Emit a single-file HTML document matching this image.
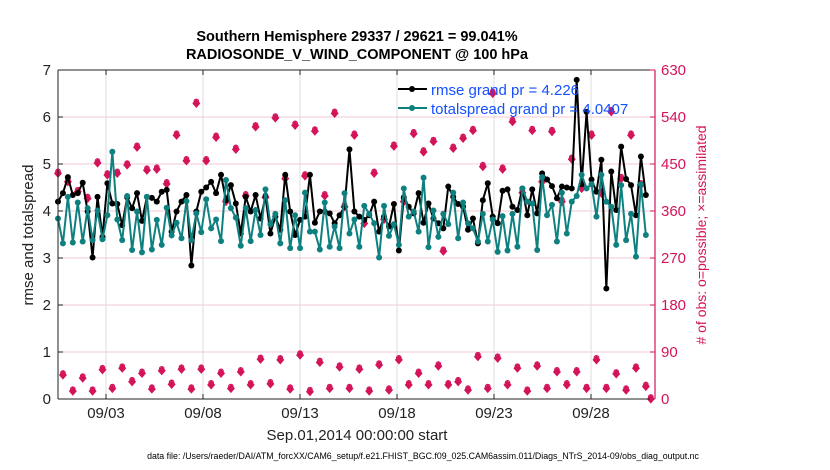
<!DOCTYPE html>
<html><head><meta charset="utf-8"><style>
body{margin:0;background:#fff;}
svg{display:block;font-family:"Liberation Sans",Arial,sans-serif;}
</style></head><body>
<svg id="c" width="830" height="470" viewBox="0 0 830 470"></svg>
<script>
const rmse=[4.20,4.38,4.72,4.34,4.38,4.60,3.99,3.01,4.30,3.45,4.59,4.16,4.15,3.70,4.29,4.06,4.38,3.79,4.30,4.28,4.20,4.41,4.45,3.56,3.99,4.20,4.34,2.84,3.99,4.41,4.50,4.62,4.38,4.77,4.23,4.55,4.16,3.52,4.30,3.99,4.34,3.84,
4.30,3.52,3.88,3.60,4.77,3.99,3.49,3.81,3.88,4.77,3.75,3.99,3.99,3.95,3.74,3.91,4.09,5.31,3.99,3.88,3.81,3.91,4.20,3.56,3.88,3.67,4.15,3.16,4.29,4.09,3.95,4.38,3.75,4.16,3.84,3.74,3.63,4.52,4.30,4.15,
4.09,3.60,3.84,3.31,4.23,4.59,3.88,3.74,4.43,4.46,4.09,4.02,4.48,3.91,4.46,3.95,4.80,4.67,4.53,4.27,4.52,4.50,4.48,6.79,4.57,6.11,4.67,4.41,5.09,2.35,4.84,4.02,5.37,4.68,4.55,3.91,5.16,4.34];
const spread=[3.84,3.31,4.30,3.33,4.18,3.35,4.06,3.38,4.01,3.40,3.91,5.26,3.82,3.38,4.32,3.17,3.99,3.12,4.30,3.18,3.81,3.28,4.07,3.48,3.75,3.42,4.21,3.38,3.95,3.55,4.25,3.63,3.82,3.36,4.66,4.06,3.86,3.26,4.06,3.36,4.02,3.49,
4.46,3.72,3.94,3.31,4.23,3.21,3.91,3.21,4.39,3.56,3.56,3.18,4.18,3.24,3.67,3.21,4.38,3.52,3.82,3.24,4.11,3.94,3.74,3.01,4.11,3.47,3.72,3.28,4.48,3.88,3.99,3.56,4.71,3.23,4.01,3.45,3.94,3.72,4.39,3.42,
4.18,3.74,3.63,3.35,3.94,3.35,3.82,3.13,3.89,3.16,3.94,3.24,4.48,4.20,4.16,3.17,4.72,3.91,4.13,3.35,4.39,3.52,4.20,4.32,4.77,4.48,4.57,3.88,4.77,4.20,4.09,3.28,4.55,3.38,3.94,3.03,4.57,3.49];
const obsPossible=[432,46,416,15,397,40,384,15,452,56,429,20,432,59,448,33,482,49,438,19,440,54,412,28,505,57,456,19,566,57,456,27,501,49,378,20,478,52,389,27,521,76,
386,29,538,75,422,19,524,84,427,14,513,70,389,20,547,61,368,20,505,57,336,15,432,65,344,17,484,75,378,27,508,49,473,27,493,63,283,27,480,33,
499,17,514,81,445,20,585,78,440,27,531,59,395,15,514,63,416,20,512,52,378,27,459,52,403,20,505,75,394,20,550,48,422,17,505,59,410,24,0];
const obsAssimilated=obsPossible;
const yTicks=[0,1,2,3,4,5,6,7];
const y2Ticks=[0,90,180,270,360,450,540,630];
const dateTicks=[3,8,13,18,23,28];
const dateLabels=["09/03","09/08","09/13","09/18","09/23","09/28"];

const svg=document.getElementById('c');
const NS='http://www.w3.org/2000/svg';
const L=58,R=655,T=70,B=399;
const xI=i=>58+i*4.94;
const xDay=d=>106+(d-3)*19.4;
const yL=v=>B-(v/7)*(B-T);
const yR=v=>B-(v/630)*(B-T);
function el(tag,attrs,parent){const e=document.createElementNS(NS,tag);for(const k in attrs)e.setAttribute(k,attrs[k]);(parent||svg).appendChild(e);return e;}
function txt(s,attrs,parent){const e=el('text',attrs,parent);e.textContent=s;return e;}

const grid=el('g',{});


yTicks.forEach(v=>{const g=el('line',{x1:L,x2:R,y1:yL(v),y2:yL(v),stroke:'#f4c9d8','stroke-width':1},grid);});
dateTicks.forEach(d=>{const g=el('line',{x1:xDay(d),x2:xDay(d),y1:T,y2:B,stroke:'#dcdcdc','stroke-width':1},grid);});

const obsG=el('g',{});


obsPossible.forEach((v,i)=>{
  const c=el('circle',{cx:xI(i),cy:yR(v)-2,r:2.3,fill:'none',stroke:'#d4145a','stroke-width':1.1},obsG);
  
  
});
obsAssimilated.forEach((v,i)=>{
  const x=xI(i),y=yR(v);
  const p=el('path',{d:`M${x} ${y-4}L${x+3.5} ${y}L${x} ${y+4}L${x-3.5} ${y}Z`,fill:'#d4145a',stroke:'#d4145a','stroke-width':0.8},obsG);
  
  
});

function series(data,color,name){
  const g=el('g',{});
  
  
  const pl=el('polyline',{points:data.map((v,i)=>xI(i)+','+yL(v)).join(' '),fill:'none',stroke:color,'stroke-width':2,'stroke-linejoin':'round'},g);
  
  
  data.forEach((v,i)=>{const c=el('circle',{cx:xI(i),cy:yL(v),r:3,fill:color},g);
    
    });
}
series(rmse,'#000','rmse-series');
series(spread,'#0f8080','totalspread-series');

const ax=el('g',{});


el('line',{x1:L,x2:R,y1:T,y2:T,stroke:'#222','stroke-width':1},ax);
el('line',{x1:L,x2:R,y1:B,y2:B,stroke:'#222','stroke-width':1},ax);
el('line',{x1:L,x2:L,y1:T,y2:B,stroke:'#222','stroke-width':1},ax);
el('line',{x1:R,x2:R,y1:T,y2:B,stroke:'#d4145a','stroke-width':1.2},ax);
yTicks.forEach(v=>{el('line',{x1:L,x2:L+5,y1:yL(v),y2:yL(v),stroke:'#222'},ax);
  const t=txt(String(v),{x:L-7,y:yL(v)+5,'text-anchor':'end','font-size':15,fill:'#222'},ax);
  });
y2Ticks.forEach(v=>{el('line',{x1:R-5,x2:R,y1:yR(v),y2:yR(v),stroke:'#d4145a'},ax);
  const t=txt(String(v),{x:R+6,y:yR(v)+5,'font-size':15,fill:'#d4145a'},ax);
  });
dateTicks.forEach((d,k)=>{el('line',{x1:xDay(d),x2:xDay(d),y1:B,y2:B-5,stroke:'#222'},ax);el('line',{x1:xDay(d),x2:xDay(d),y1:T,y2:T+5,stroke:'#222'},ax);
  const t=txt(dateLabels[k],{x:xDay(d),y:B+19,'text-anchor':'middle','font-size':15,fill:'#222'},ax);
  });
</script>
<div style="position:absolute;left:0;top:0;width:830px;height:470px;pointer-events:none">
<svg width="830" height="470" style="font-family:'Liberation Sans',Arial,sans-serif">
<text x="357" y="41" text-anchor="middle" font-size="14.5" font-weight="bold" fill="#000">Southern Hemisphere 29337 / 29621 = 99.041%</text>
<text x="357" y="59" text-anchor="middle" font-size="14.5" font-weight="bold" fill="#000">RADIOSONDE_V_WIND_COMPONENT @ 100 hPa</text>
<text transform="translate(33,235) rotate(-90)" text-anchor="middle" font-size="15" fill="#222">rmse and totalspread</text>
<text transform="translate(706,235) rotate(-90)" text-anchor="middle" font-size="14" fill="#d4145a"># of obs: o=possible; ×=assimilated</text>
<text x="357" y="440" text-anchor="middle" font-size="15" fill="#222">Sep.01,2014 00:00:00 start</text>
<text x="423" y="459" text-anchor="middle" font-size="8.8" fill="#000">data file: /Users/raeder/DAI/ATM_forcXX/CAM6_setup/f.e21.FHIST_BGC.f09_025.CAM6assim.011/Diags_NTrS_2014-09/obs_diag_output.nc</text>
<g>
<g>
<line x1="398" x2="427" y1="89" y2="89" stroke="#000" stroke-width="2"/><circle cx="412" cy="89" r="3" fill="#000"/>
<text x="431" y="95" font-size="15" fill="#1450ff">rmse grand pr = 4.226</text></g>
<g>
<line x1="398" x2="427" y1="108" y2="108" stroke="#0f8080" stroke-width="2"/><circle cx="412" cy="108" r="3" fill="#0f8080"/>
<text x="431" y="114" font-size="15" fill="#1450ff">totalspread grand pr = 4.0407</text></g>
</g>
</svg></div>
</body></html>
